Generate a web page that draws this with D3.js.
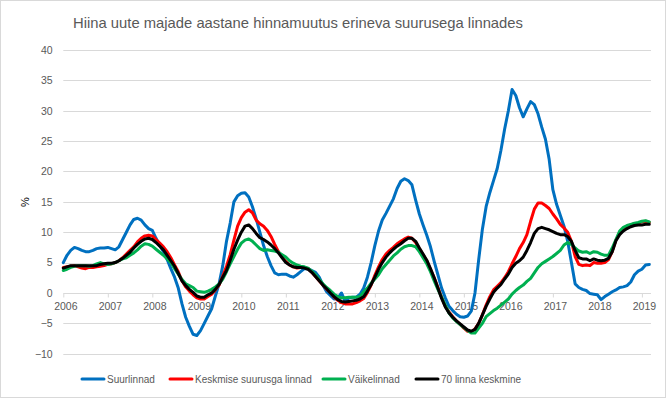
<!DOCTYPE html>
<html>
<head>
<meta charset="utf-8">
<script src="https://cdn.jsdelivr.net/npm/d3@7"></script>
<style>
  html, body { margin: 0; padding: 0; background: #fff; }
  svg { display: block; font-family: "Liberation Sans", Arial, sans-serif; }
</style>
</head>
<body>
<svg id="chart" width="667" height="399"></svg>
<script>
// ---- DATA (monthly, Jan 2006 – Mar 2019) ----
const startMonth = "2006-01";
const yearLabels = ["2006","2007","2008","2009","2010","2011","2012","2013","2014","2015","2016","2017","2018","2019"];
const yTicks = [-10, -5, 0, 5, 10, 15, 20, 25, 30, 35, 40];
const seriesNames = ["Suurlinnad", "Keskmise suurusga linnad", "Väikelinnad", "70 linna keskmine"];

const suurlinnad = [
  5.0, 6.2, 7.0, 7.5, 7.3, 7.0, 6.8, 6.8, 7.0, 7.3, 7.4, 7.4,
  7.5, 7.3, 7.1, 7.6, 8.8, 10.0, 11.2, 12.1, 12.3, 12.0, 11.2, 10.6,
  10.3, 9.0, 7.8, 6.8, 5.5, 4.0, 2.6, 0.8, -1.8, -4.0, -5.5, -6.8,
  -7.0, -6.2, -5.0, -3.8, -2.6, -0.5, 1.5, 4.5, 8.5, 11.5, 15.0, 16.0,
  16.4, 16.5, 15.8, 14.2, 12.2, 10.0, 7.8, 6.0, 4.5, 3.3, 3.0, 3.1,
  3.1, 2.8, 2.6, 3.0, 3.5, 4.0, 4.0, 3.7, 3.4, 2.6, 1.3, 0.2,
  -0.4, -1.0, -0.9, 0.0, -1.4, -0.8, -0.7, -0.7, -0.2, 0.8, 2.6, 5.0,
  7.8, 10.2, 12.0, 13.1, 14.3, 15.5, 17.2, 18.4, 18.8, 18.5, 17.8, 15.3,
  13.0, 11.2, 9.5, 7.6, 5.2, 3.0, 0.8, -0.8, -2.2, -2.9, -3.5, -3.9,
  -4.0, -3.8, -3.0, 0.0, 5.5, 10.5, 14.2, 16.5, 18.5, 20.5, 23.5, 27.0,
  30.0, 33.5, 32.5, 30.5, 29.0, 30.3, 31.5, 31.0, 29.5, 27.3, 25.3, 22.0,
  17.0, 14.6, 12.8, 11.0, 8.5, 5.0, 1.5, 0.9, 0.6, 0.4, -0.1, -0.2,
  -0.3, -1.1, -0.6, -0.2, 0.2, 0.5, 0.9, 1.0, 1.2, 1.8, 3.0, 3.6,
  3.9, 4.6, 4.7
];
const keskmised = [
  4.2, 4.3, 4.4, 4.5, 4.3, 4.1, 4.0, 4.2, 4.2, 4.3, 4.4, 4.5,
  4.7, 4.8, 5.0, 5.3, 5.8, 6.4, 7.0, 7.6, 8.4, 9.0, 9.4, 9.5,
  9.4, 8.8, 8.2, 7.6, 6.8, 5.8, 4.6, 3.5, 2.0, 1.0, 0.3, -0.3,
  -0.8, -1.0, -1.0, -0.6, -0.2, 0.5, 1.3, 2.8, 4.4, 6.3, 8.7, 11.0,
  12.4, 13.3, 13.7, 13.2, 12.0, 11.4, 11.0, 10.3, 9.3, 8.0, 6.8, 5.9,
  5.2, 4.6, 4.3, 4.1, 4.2, 4.2, 4.0, 3.4, 2.7, 2.0, 1.3, 0.6,
  0.1, -0.7, -1.2, -1.6, -1.8, -1.8, -1.8, -1.6, -1.3, -0.9, 0.1, 1.3,
  2.9, 4.3, 5.5, 6.4, 7.0, 7.5, 8.1, 8.5, 8.9, 9.2, 9.0, 8.3,
  7.3, 6.3, 5.3, 3.9, 2.5, 0.9, -0.7, -2.2, -3.1, -3.9, -4.6, -5.2,
  -5.8, -6.3, -6.4, -5.9, -5.0, -3.6, -2.0, -0.6, 0.5, 1.1, 1.7, 2.5,
  3.5, 4.8, 6.0, 7.3, 8.3, 9.6, 11.8, 13.8, 14.8, 14.8, 14.4, 13.9,
  13.0, 12.2, 11.3, 10.7, 10.0, 8.5, 6.0, 4.7, 4.5, 4.6, 4.5, 5.0,
  4.9, 4.9, 5.0, 5.5, 6.8, 8.7, 9.8, 10.5, 11.0, 11.2, 11.4, 11.5,
  11.7, 11.8, 11.6
];
const vaikelinnad = [
  3.7, 3.9, 4.2, 4.4, 4.5, 4.5, 4.5, 4.4, 4.5, 4.8, 5.0, 4.8,
  4.7, 4.8, 5.0, 5.3, 5.6, 5.8, 6.2, 6.6, 7.1, 7.7, 8.1, 8.0,
  7.7, 7.2, 6.7, 6.2, 5.6, 5.0, 4.0, 3.1, 2.2, 1.5, 1.2, 0.9,
  0.3, 0.2, 0.1, 0.3, 0.6, 1.0, 1.5, 2.3, 3.5, 4.8, 6.0, 7.2,
  8.2, 8.7, 8.9, 8.5, 7.9, 7.3, 7.0, 7.1, 7.0, 6.9, 6.7, 6.3,
  5.9, 5.3, 4.9, 4.6, 4.4, 4.3, 4.1, 3.6, 3.0, 2.2, 1.5, 0.9,
  0.4, -0.2, -0.6, -0.8, -0.8, -0.7, -0.7, -0.7, -0.6, 0.2, 0.8, 1.6,
  2.3, 3.0, 4.0, 4.7, 5.4, 6.1, 6.6, 7.2, 7.6, 7.8, 7.8, 7.6,
  6.8, 5.8, 4.8, 3.5, 2.0, 0.6, -0.7, -2.0, -3.3, -4.1, -4.7, -5.2,
  -5.7, -6.2, -6.6, -6.6, -5.8, -5.0, -3.9, -3.4, -2.9, -2.5, -2.0, -1.5,
  -1.0, -0.2, 0.4, 0.9, 1.3, 1.9, 2.4, 3.3, 4.2, 4.8, 5.2, 5.6,
  6.0, 6.5, 7.0, 7.9, 8.3, 8.0, 7.4, 6.9, 6.7, 6.8, 6.5, 6.8,
  6.7, 6.4, 6.2, 6.2, 7.4, 8.8, 10.2, 10.8, 11.1, 11.3, 11.5, 11.6,
  11.8, 11.9, 11.7
];
const keskmine70 = [
  4.1, 4.3, 4.5, 4.5, 4.5, 4.5, 4.5, 4.5, 4.5, 4.5, 4.7, 4.8,
  4.9, 4.9, 5.0, 5.3, 5.7, 6.2, 6.7, 7.4, 8.0, 8.5, 8.9, 9.0,
  8.8, 8.3, 7.7, 7.1, 6.2, 5.3, 4.4, 3.2, 2.0, 1.2, 0.6, 0.1,
  -0.5, -0.7, -0.7, -0.3, 0.0, 0.6, 1.4, 2.6, 3.7, 5.4, 7.2, 8.7,
  10.0, 11.0, 11.2, 10.6, 9.8, 9.1, 8.8, 8.4, 7.9, 7.3, 6.6, 5.8,
  5.0, 4.6, 4.3, 4.2, 4.2, 4.1, 3.9, 3.4, 2.7, 2.0, 1.3, 0.7,
  0.0, -0.6, -1.1, -1.4, -1.5, -1.4, -1.3, -1.2, -1.0, -0.6, 0.3, 1.4,
  2.6, 3.9, 5.0, 5.9, 6.6, 7.2, 7.7, 8.1, 8.6, 9.0, 9.0, 8.5,
  7.4, 6.4, 5.4, 4.0, 2.5, 0.8, -0.9, -2.3, -3.3, -4.0, -4.6, -5.1,
  -5.6, -6.1, -6.3, -6.0, -5.0, -3.6, -2.2, -1.0, 0.1, 0.8, 1.4, 2.3,
  3.1, 4.2, 4.9, 5.3, 5.9, 7.0, 8.3, 9.8, 10.6, 10.8, 10.6, 10.4,
  10.1, 9.8, 9.6, 9.6, 9.3, 8.5, 7.0, 5.8, 5.6, 5.6, 5.3, 5.6,
  5.4, 5.3, 5.4, 5.7, 6.8, 8.6, 9.6, 10.2, 10.6, 10.9, 11.1, 11.2,
  11.2, 11.3, 11.3
];

const seriesData = [suurlinnad, keskmised, vaikelinnad, keskmine70];
const colors = ["#0070C0", "#FF0000", "#00B050", "#000000"];

// ---- LAYOUT ----
const svg = d3.select("#chart");
const textColor = "#595959";
const fontFam = "'Liberation Sans', Arial, sans-serif";

svg.append("rect").attr("x", 0.5).attr("y", 0.5).attr("width", 665).attr("height", 397)
  .attr("fill", "#fff").attr("stroke", "#d9d9d9");

const nMonths = suurlinnad.length;
const x = d3.scaleLinear().domain([0, nMonths - 1]).range([63.3, 649.3]);
const y = d3.scaleLinear().domain([-10, 40]).range([353.7, 50]);
const plotLeft = 63.3, plotRight = 651;

// gridlines
svg.append("g").selectAll("line").data(yTicks.filter(d => d !== 0)).join("line")
  .attr("x1", plotLeft).attr("x2", plotRight)
  .attr("y1", d => Math.round(y(d)) + 0.5).attr("y2", d => Math.round(y(d)) + 0.5)
  .attr("stroke", "#d9d9d9").attr("stroke-width", 1);

// y axis labels
const yAxis = d3.axisLeft(y).tickValues(yTicks).tickSize(0).tickPadding(0);
const gy = svg.append("g").attr("transform", `translate(52.7,0)`).call(yAxis);
gy.select(".domain").remove();
gy.selectAll("text").attr("fill", textColor).style("font-size", "10.5px")
  .style("font-family", fontFam);

// x axis at zero
const tickIdx = yearLabels.map((d, i) => i * 12);
const xAxis = d3.axisBottom(x).tickValues(tickIdx).tickFormat((d, i) => yearLabels[i])
  .tickSizeInner(4).tickSizeOuter(0).tickPadding(5);
const gx = svg.append("g").attr("transform", `translate(0,${Math.round(y(0)) + 0.5})`).call(xAxis);
gx.select(".domain").attr("d", `M${plotLeft},0H${plotRight}`).attr("stroke", "#d9d9d9");
gx.selectAll(".tick line").attr("stroke", "#d9d9d9");
gx.selectAll("text").attr("fill", textColor).style("font-size", "10.5px")
  .style("font-family", fontFam).attr("dx", "2");

// lines
const line = d3.line().x((d, i) => x(i)).y(d => y(d)).curve(d3.curveLinear);
svg.append("g").selectAll("path").data(seriesData).join("path")
  .attr("d", d => line(d))
  .attr("fill", "none")
  .attr("stroke", (d, i) => colors[i])
  .attr("stroke-width", 3)
  .attr("stroke-linejoin", "round")
  .attr("stroke-linecap", "round");

// y label
svg.append("text").attr("transform", "translate(29,202) rotate(-90)")
  .attr("text-anchor", "middle").attr("fill", "#000").style("font-size", "11px").text("%");

// title
const title = svg.append("text").attr("x", 73).attr("y", 28)
  .attr("fill", "#595959").style("font-size", "16px")
  .text("Hiina uute majade aastane hinnamuutus erineva suurusega linnades");
const tw = title.node().getComputedTextLength();
title.style("font-size", (16 * 450 / tw).toFixed(2) + "px");

// legend
const legendX = [82, 170, 323, 416];
const lg = svg.append("g").selectAll("g").data(seriesNames).join("g")
  .attr("transform", (d, i) => `translate(${legendX[i]},379)`);
lg.append("line").attr("x1", 0).attr("x2", 22).attr("y1", 0).attr("y2", 0)
  .attr("stroke", (d, i) => colors[i]).attr("stroke-width", 3).attr("stroke-linecap", "round");
lg.append("text").attr("x", 25).attr("y", 3.5).attr("fill", textColor)
  .style("font-size", "10px").text(d => d);
</script>
</body>
</html>
